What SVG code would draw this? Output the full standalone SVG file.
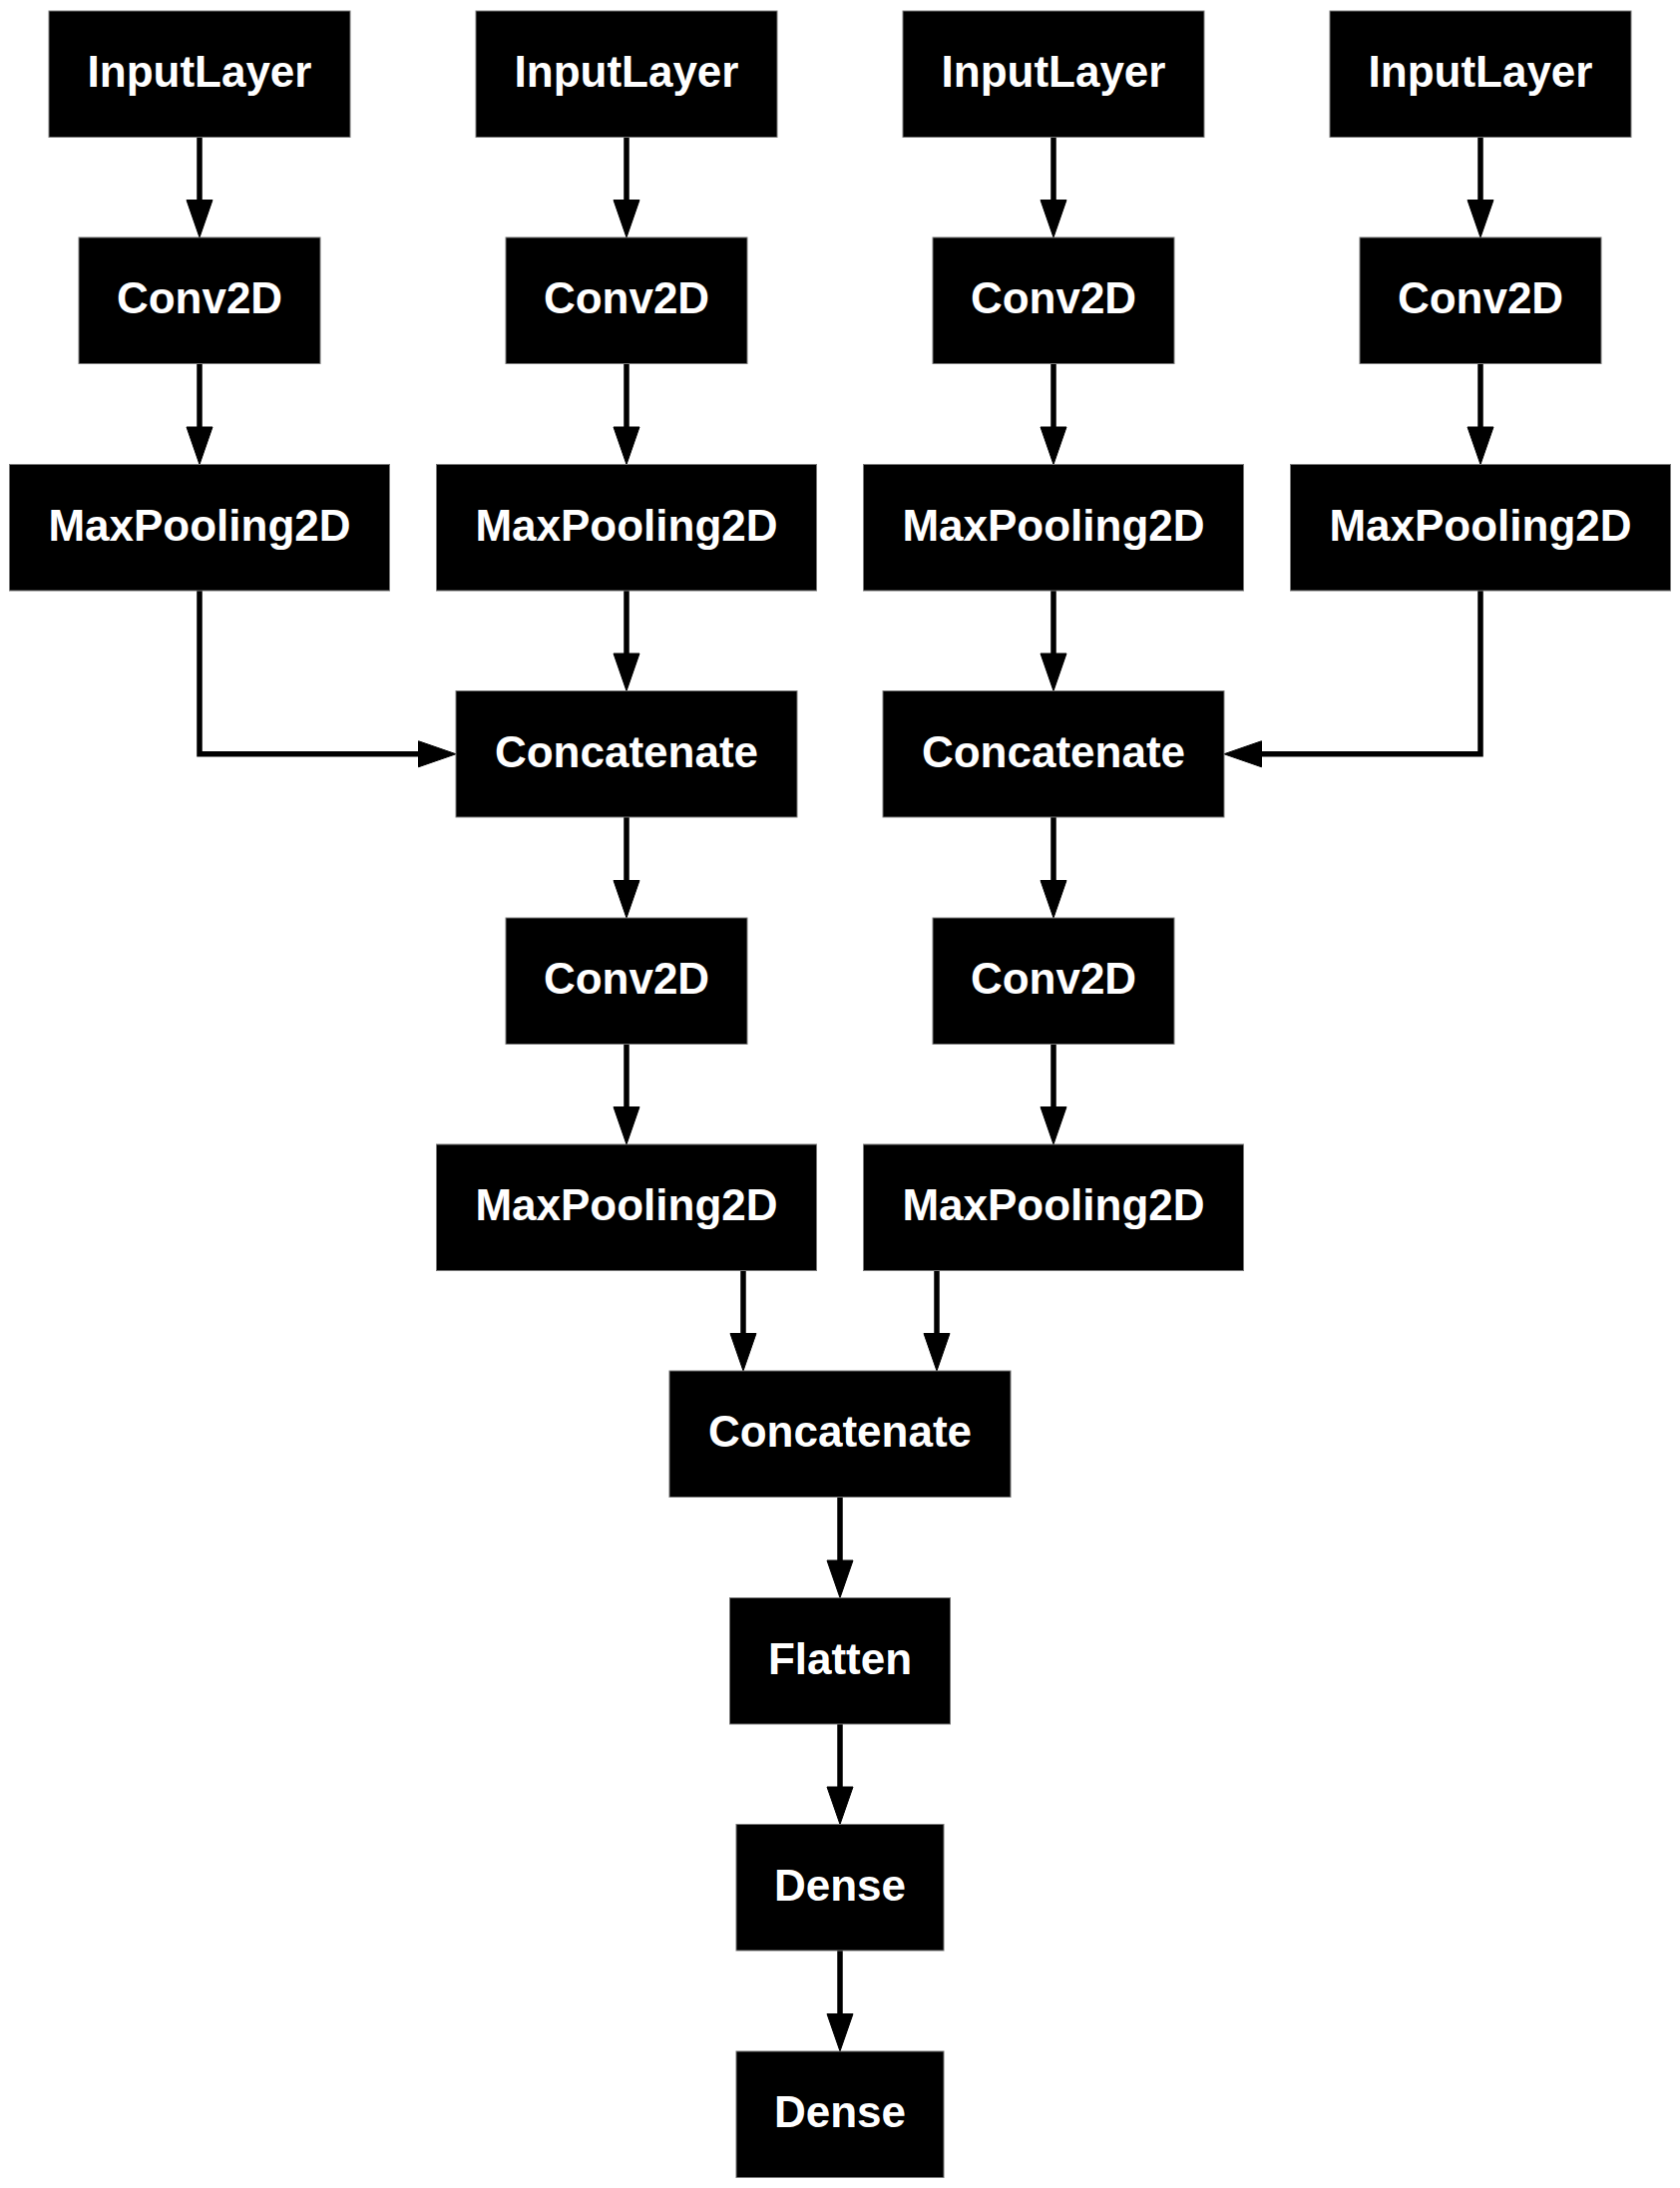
<svg xmlns="http://www.w3.org/2000/svg" width="1684" height="2193" viewBox="0 0 1684 2193">
  <style>
    .box { fill: #000; stroke: #777; stroke-width: 1; }
    .lbl { fill: #fff; font-family: "Liberation Sans", Arial, sans-serif; font-weight: bold; font-size: 44px; text-anchor: middle; }
    .edge { fill: none; stroke: #000; stroke-width: 5.5; stroke-linejoin: miter; marker-end: url(#arrow); }
  </style>
  <defs>
    <marker id="arrow" markerUnits="userSpaceOnUse" markerWidth="38" markerHeight="27" refX="0" refY="13" orient="auto" overflow="visible">
      <path d="M0,0 L37.5,13 L0,26 Z" fill="#000" stroke="#000" stroke-width="1"/>
    </marker>
  </defs>
  <rect width="1684" height="2193" fill="#fff"/>

  <!-- connectors -->
  <g id="connectors">
    <!-- input branches -->
    <path class="edge" d="M200,137.5 V200.5"/>
    <path class="edge" d="M628,137.5 V200.5"/>
    <path class="edge" d="M1056,137.5 V200.5"/>
    <path class="edge" d="M1484,137.5 V200.5"/>
    <path class="edge" d="M200,364.5 V428"/>
    <path class="edge" d="M628,364.5 V428"/>
    <path class="edge" d="M1056,364.5 V428"/>
    <path class="edge" d="M1484,364.5 V428"/>
    <!-- pooling into first concatenations -->
    <path class="edge" d="M200,592 V755.75 H419.5"/>
    <path class="edge" d="M628,592 V655"/>
    <path class="edge" d="M1056,592 V655"/>
    <path class="edge" d="M1484,592 V755.75 H1264.5"/>
    <!-- second stage -->
    <path class="edge" d="M628,819 V882.5"/>
    <path class="edge" d="M1056,819 V882.5"/>
    <path class="edge" d="M628,1046.5 V1109.5"/>
    <path class="edge" d="M1056,1046.5 V1109.5"/>
    <path class="edge" d="M745,1273.5 V1336.5"/>
    <path class="edge" d="M939,1273.5 V1336.5"/>
    <!-- head -->
    <path class="edge" d="M842,1500.5 V1564"/>
    <path class="edge" d="M842,1728 V1791"/>
    <path class="edge" d="M842,1955 V2018.5"/>
  </g>

  <!-- row 0: inputs -->
  <g id="input_1"><rect class="box" x="49" y="11" width="302" height="126.5"/><text class="lbl" x="200" y="87">InputLayer</text></g>
  <g id="input_2"><rect class="box" x="477" y="11" width="302" height="126.5"/><text class="lbl" x="628" y="87">InputLayer</text></g>
  <g id="input_3"><rect class="box" x="905" y="11" width="302" height="126.5"/><text class="lbl" x="1056" y="87">InputLayer</text></g>
  <g id="input_4"><rect class="box" x="1333" y="11" width="302" height="126.5"/><text class="lbl" x="1484" y="87">InputLayer</text></g>

  <!-- row 1: convolutions -->
  <g id="conv2d_1"><rect class="box" x="79" y="238" width="242" height="126.5"/><text class="lbl" x="200" y="314">Conv2D</text></g>
  <g id="conv2d_2"><rect class="box" x="507" y="238" width="242" height="126.5"/><text class="lbl" x="628" y="314">Conv2D</text></g>
  <g id="conv2d_3"><rect class="box" x="935" y="238" width="242" height="126.5"/><text class="lbl" x="1056" y="314">Conv2D</text></g>
  <g id="conv2d_4"><rect class="box" x="1363" y="238" width="242" height="126.5"/><text class="lbl" x="1484" y="314">Conv2D</text></g>

  <!-- row 2: pooling -->
  <g id="pool_1"><rect class="box" x="9.5" y="465.5" width="381" height="126.5"/><text class="lbl" x="200" y="541.5">MaxPooling2D</text></g>
  <g id="pool_2"><rect class="box" x="437.5" y="465.5" width="381" height="126.5"/><text class="lbl" x="628" y="541.5">MaxPooling2D</text></g>
  <g id="pool_3"><rect class="box" x="865.5" y="465.5" width="381" height="126.5"/><text class="lbl" x="1056" y="541.5">MaxPooling2D</text></g>
  <g id="pool_4"><rect class="box" x="1293.5" y="465.5" width="381" height="126.5"/><text class="lbl" x="1484" y="541.5">MaxPooling2D</text></g>

  <!-- row 3: concatenations -->
  <g id="concat_1"><rect class="box" x="457" y="692.5" width="342" height="126.5"/><text class="lbl" x="628" y="768.5">Concatenate</text></g>
  <g id="concat_2"><rect class="box" x="885" y="692.5" width="342" height="126.5"/><text class="lbl" x="1056" y="768.5">Concatenate</text></g>

  <!-- row 4 -->
  <g id="conv2d_5"><rect class="box" x="507" y="920" width="242" height="126.5"/><text class="lbl" x="628" y="996">Conv2D</text></g>
  <g id="conv2d_6"><rect class="box" x="935" y="920" width="242" height="126.5"/><text class="lbl" x="1056" y="996">Conv2D</text></g>

  <!-- row 5 -->
  <g id="pool_5"><rect class="box" x="437.5" y="1147" width="381" height="126.5"/><text class="lbl" x="628" y="1223">MaxPooling2D</text></g>
  <g id="pool_6"><rect class="box" x="865.5" y="1147" width="381" height="126.5"/><text class="lbl" x="1056" y="1223">MaxPooling2D</text></g>

  <!-- head -->
  <g id="concat_3"><rect class="box" x="671" y="1374" width="342" height="126.5"/><text class="lbl" x="842" y="1450">Concatenate</text></g>
  <g id="flatten"><rect class="box" x="731.5" y="1601.5" width="221" height="126.5"/><text class="lbl" x="842" y="1677.5">Flatten</text></g>
  <g id="dense_1"><rect class="box" x="738" y="1828.5" width="208" height="126.5"/><text class="lbl" x="842" y="1904.5">Dense</text></g>
  <g id="dense_2"><rect class="box" x="738" y="2056" width="208" height="126.5"/><text class="lbl" x="842" y="2132">Dense</text></g>
</svg>
